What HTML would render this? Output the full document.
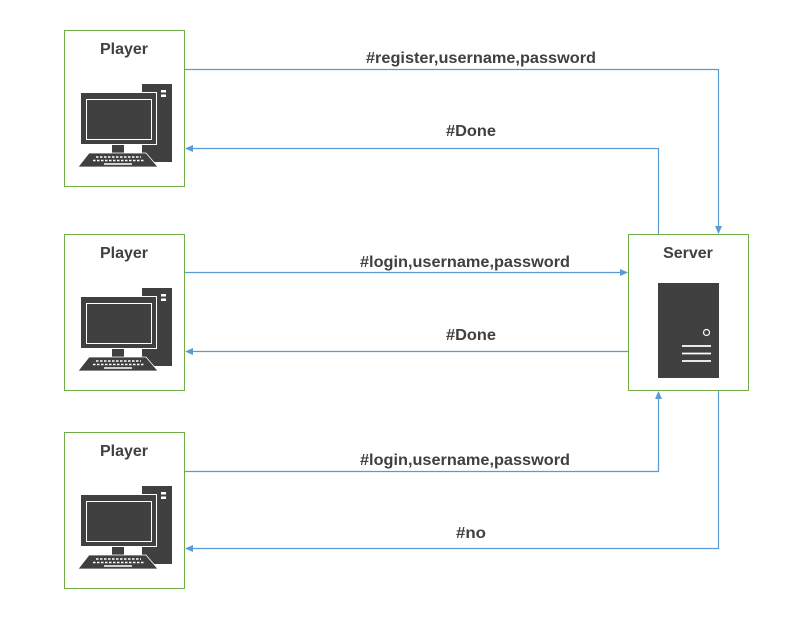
<!DOCTYPE html>
<html><head><meta charset="utf-8"><style>
html,body{margin:0;padding:0;background:#fff;}
svg{display:block;}
text{font-family:"Liberation Sans",sans-serif;font-weight:bold;fill:#404040;}
</style></head><body>
<svg width="811" height="633" viewBox="0 0 811 633" xmlns="http://www.w3.org/2000/svg">
<defs>
<marker id="a" markerWidth="8" markerHeight="8" refX="7" refY="4" orient="auto" markerUnits="userSpaceOnUse">
<path d="M0,0.5 L8,4 L0,7.5 Z" fill="#5b9bd5"/>
</marker>
<g id="pc">
<rect x="142" y="84" width="30" height="78" fill="#404040"/>
<rect x="161" y="90" width="5" height="2.5" fill="#fff"/>
<rect x="161" y="94.5" width="5" height="2.5" fill="#fff"/>
<rect x="80.5" y="92.5" width="76" height="52" fill="#404040" stroke="#fff" stroke-width="1"/>
<rect x="86.5" y="99.5" width="65" height="40" fill="none" stroke="#fff" stroke-width="1"/>
<rect x="112" y="145" width="12" height="8" fill="#404040"/>
<path d="M89,153 L146,153 L158,167 L78,167 Z" fill="#404040" stroke="#fff" stroke-width="0.8"/>
<g stroke="#fff" stroke-width="1.6" stroke-dasharray="2.5,1.5">
<line x1="96" y1="157" x2="141" y2="157"/>
<line x1="93" y1="160.5" x2="145" y2="160.5"/>
</g>
<line x1="104" y1="164" x2="132" y2="164" stroke="#fff" stroke-width="1.6"/>
</g>
</defs>

<rect x="64.5" y="30.5" width="120" height="156" fill="#fff" stroke="#70ad47"/>
<rect x="64.5" y="234.5" width="120" height="156" fill="#fff" stroke="#70ad47"/>
<rect x="64.5" y="432.5" width="120" height="156" fill="#fff" stroke="#70ad47"/>
<rect x="628.5" y="234.5" width="120" height="156" fill="#fff" stroke="#70ad47"/>

<text x="124" y="54" font-size="16" text-anchor="middle">Player</text>
<text x="124" y="258" font-size="16" text-anchor="middle">Player</text>
<text x="124" y="456" font-size="16" text-anchor="middle">Player</text>
<text x="688" y="258" font-size="16" text-anchor="middle">Server</text>

<use href="#pc"/>
<use href="#pc" transform="translate(0,204)"/>
<use href="#pc" transform="translate(0,402)"/>

<rect x="658" y="283" width="61" height="95" fill="#404040"/>
<circle cx="706.5" cy="332.5" r="3" fill="none" stroke="#fff" stroke-width="1.2"/>
<g stroke="#fff" stroke-width="1.8">
<line x1="682" y1="346" x2="711" y2="346"/>
<line x1="682" y1="353.5" x2="711" y2="353.5"/>
<line x1="682" y1="361" x2="711" y2="361"/>
</g>

<g fill="none" stroke="#5b9bd5" stroke-width="1.2">
<path d="M185,69.5 H718.5 V233" marker-end="url(#a)"/>
<path d="M658.5,234 V148.5 H186" marker-end="url(#a)"/>
<path d="M185,272.5 H627" marker-end="url(#a)"/>
<path d="M628,351.5 H186" marker-end="url(#a)"/>
<path d="M185,471.5 H658.5 V392" marker-end="url(#a)"/>
<path d="M718.5,391 V548.5 H186" marker-end="url(#a)"/>
</g>

<text x="481" y="63" font-size="16" text-anchor="middle" textLength="230" lengthAdjust="spacingAndGlyphs">#register,username,password</text>
<text x="471" y="136" font-size="16" text-anchor="middle" textLength="50" lengthAdjust="spacingAndGlyphs">#Done</text>
<text x="465" y="267" font-size="16" text-anchor="middle" textLength="210" lengthAdjust="spacingAndGlyphs">#login,username,password</text>
<text x="471" y="340" font-size="16" text-anchor="middle" textLength="50" lengthAdjust="spacingAndGlyphs">#Done</text>
<text x="465" y="465" font-size="16" text-anchor="middle" textLength="210" lengthAdjust="spacingAndGlyphs">#login,username,password</text>
<text x="471" y="538" font-size="16" text-anchor="middle" textLength="30" lengthAdjust="spacingAndGlyphs">#no</text>
</svg>
</body></html>
